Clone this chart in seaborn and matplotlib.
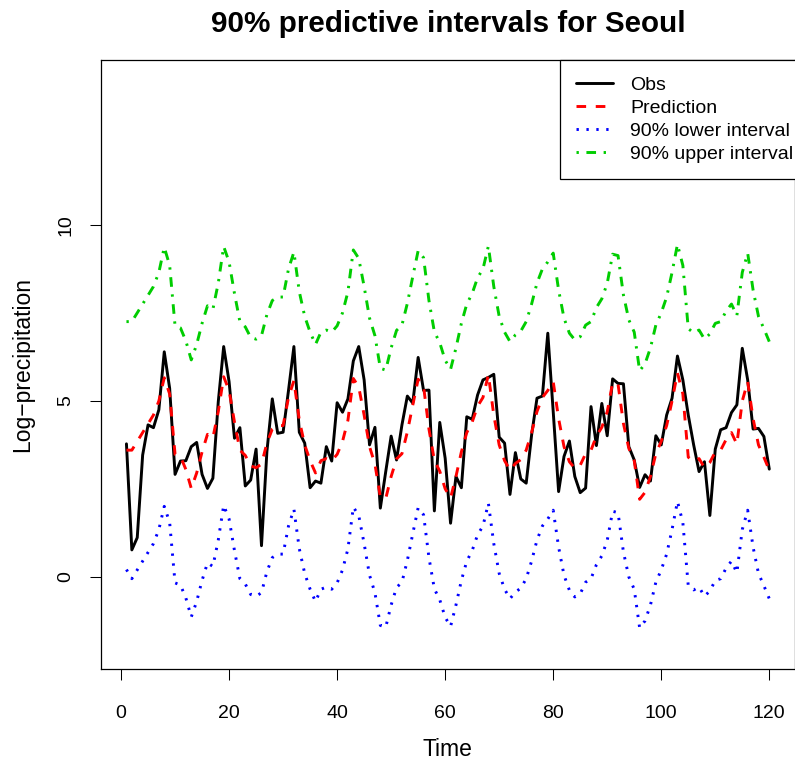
import numpy as np
import pandas as pd
import matplotlib
matplotlib.use("Agg")
import matplotlib.pyplot as plt
import seaborn as sns

# ---- data ----
time = np.arange(1, 121)

obs = [
    3.78, 0.76, 1.11, 3.46, 4.32, 4.24, 4.75, 6.40, 5.36, 2.91,
    3.29, 3.30, 3.70, 3.82, 2.91, 2.51, 2.80, 4.98, 6.55, 5.55,
    3.94, 4.24, 2.58, 2.75, 3.63, 0.88, 3.56, 5.06, 4.08, 4.11,
    5.30, 6.55, 4.11, 3.80, 2.53, 2.72, 2.66, 3.70, 3.29, 4.95,
    4.68, 5.06, 6.14, 6.55, 5.60, 3.75, 4.25, 1.95, 2.99, 4.00,
    3.32, 4.32, 5.14, 4.94, 6.24, 5.30, 5.31, 1.87, 4.39, 3.37,
    1.52, 2.85, 2.53, 4.55, 4.48, 5.17, 5.60, 5.67, 5.76, 3.97,
    3.80, 2.34, 3.53, 2.78, 2.66, 4.03, 5.08, 5.14, 6.93, 4.70,
    2.42, 3.42, 3.86, 2.85, 2.39, 2.52, 4.84, 3.73, 4.93, 4.01,
    5.63, 5.50, 5.49, 3.70, 3.32, 2.54, 2.90, 2.72, 4.01, 3.75,
    4.60, 5.08, 6.28, 5.60, 4.60, 3.75, 2.99, 3.27, 1.74, 3.63,
    4.18, 4.24, 4.67, 4.89, 6.50, 5.60, 4.20, 4.22, 3.99, 3.06,
]

pred = [
    3.60, 3.60, 3.85, 4.10, 4.35, 4.60, 5.00, 5.66, 5.20, 3.48,
    3.42, 3.05, 2.51, 2.95, 3.55, 4.05, 3.95, 4.70, 5.69, 5.30,
    4.40, 3.60, 3.45, 3.15, 3.10, 3.20, 3.80, 4.20, 4.30, 4.30,
    5.10, 5.58, 4.45, 3.75, 3.30, 2.95, 3.30, 3.36, 3.30, 3.48,
    3.85, 4.45, 5.64, 5.40, 4.60, 3.70, 3.20, 2.27, 2.22, 2.85,
    3.35, 3.50, 4.12, 4.88, 5.62, 5.42, 4.20, 3.31, 3.00, 2.50,
    2.24, 2.85, 3.55, 4.10, 4.40, 4.85, 5.10, 5.75, 4.60, 3.75,
    3.30, 3.03, 3.22, 3.33, 3.60, 4.10, 4.70, 5.10, 5.30, 5.55,
    4.50, 3.70, 3.27, 3.08, 3.17, 3.50, 3.60, 4.00, 4.25, 4.69,
    5.52, 5.48, 4.36, 3.65, 3.30, 2.20, 2.40, 2.85, 3.50, 3.85,
    4.30, 5.00, 5.80, 5.20, 3.40, 3.28, 3.36, 3.10, 3.25, 3.55,
    3.60, 3.90, 4.10, 3.77, 5.00, 5.55, 4.50, 3.75, 3.40, 3.03,
]

lower = [
    0.20, -0.06, 0.19, 0.44, 0.69, 0.94, 1.34, 2.00, 1.54, -0.18,
    -0.24, -0.61, -1.15, -0.71, -0.11, 0.39, 0.29, 1.04, 2.03, 1.64,
    0.74, -0.06, -0.21, -0.51, -0.56, -0.46, 0.14, 0.54, 0.64, 0.64,
    1.44, 1.92, 0.79, 0.09, -0.36, -0.71, -0.36, -0.30, -0.36, -0.18,
    0.19, 0.79, 1.98, 1.74, 0.94, 0.04, -0.46, -1.39, -1.44, -0.81,
    -0.31, -0.16, 0.46, 1.22, 1.96, 1.76, 0.54, -0.35, -0.66, -1.16,
    -1.42, -0.81, -0.11, 0.44, 0.74, 1.19, 1.44, 2.09, 0.94, 0.09,
    -0.36, -0.63, -0.44, -0.33, -0.06, 0.44, 1.04, 1.44, 1.64, 1.89,
    0.84, 0.04, -0.39, -0.58, -0.49, -0.16, -0.06, 0.34, 0.59, 1.03,
    1.86, 1.82, 0.70, -0.01, -0.36, -1.46, -1.26, -0.81, -0.16, 0.19,
    0.64, 1.34, 2.14, 1.54, -0.26, -0.38, -0.30, -0.56, -0.41, -0.11,
    -0.06, 0.24, 0.44, 0.11, 1.34, 1.89, 0.84, 0.09, -0.26, -0.63,
]

upper = [
    7.26, 7.26, 7.51, 7.76, 8.01, 8.26, 8.66, 9.38, 8.86, 7.14,
    7.08, 6.71, 6.17, 6.61, 7.21, 7.71, 7.61, 8.36, 9.40, 8.96,
    8.06, 7.26, 7.11, 6.81, 6.76, 6.86, 7.46, 7.86, 7.96, 7.96,
    8.76, 9.24, 8.11, 7.41, 6.96, 6.61, 6.96, 7.02, 6.96, 7.14,
    7.51, 8.11, 9.30, 9.06, 8.26, 7.36, 6.86, 5.93, 5.88, 6.51,
    7.01, 7.16, 7.78, 8.54, 9.28, 9.08, 7.86, 6.97, 6.66, 6.16,
    5.90, 6.51, 7.21, 7.76, 8.06, 8.51, 8.76, 9.41, 8.26, 7.41,
    6.96, 6.69, 6.88, 6.99, 7.26, 7.76, 8.36, 8.76, 8.96, 9.21,
    8.16, 7.36, 6.93, 6.74, 6.83, 7.16, 7.26, 7.66, 7.91, 8.35,
    9.18, 9.14, 8.02, 7.31, 6.96, 5.86, 6.06, 6.51, 7.16, 7.51,
    7.96, 8.66, 9.46, 8.86, 7.06, 6.94, 7.02, 6.76, 6.91, 7.21,
    7.26, 7.56, 7.76, 7.43, 8.66, 9.21, 8.16, 7.41, 7.06, 6.69,
]

labels = ["Obs", "Prediction", "90% lower interval", "90% upper interval"]
colors = ["black", "#FF0000", "#0000FF", "#00CD00"]
# dash patterns in units of line width (R lty 1, 2, 3, 4)
dash_styles = [None, (3.3, 3.3), (0.8, 2.6), (0.8, 2.6, 3.3, 2.6)]

df = pd.DataFrame({"time": time, "obs": obs, "pred": pred,
                   "lower": lower, "upper": upper})

sns.set_style("ticks")
plt.rcParams["font.family"] = ["Liberation Sans", "DejaVu Sans"]
for key in ["text.color", "axes.labelcolor", "xtick.color", "ytick.color"]:
    plt.rcParams[key] = "black"

fig = plt.figure(figsize=(7.95, 7.63), dpi=100)
ax = fig.add_axes([0.1267, 0.1228, 0.8733, 0.7986])

for col, lab, c, d in zip(["obs", "pred", "lower", "upper"], labels, colors, dash_styles):
    sns.lineplot(data=df, x="time", y=col, color=c, linewidth=2.1, label=lab, ax=ax)
    line = ax.lines[-1]
    if d is not None:
        line.set_dashes(d)
        line.set_dash_capstyle("butt")

ax.set_xlim(-3.76, 124.76)
ax.set_ylim(-2.64, 14.71)
ax.set_xticks([0, 20, 40, 60, 80, 100, 120])
ax.set_yticks([0, 5, 10])
ax.tick_params(axis="both", direction="out", length=8, width=0.75,
               labelsize=14)
ax.tick_params(axis="x", pad=18)
ax.tick_params(axis="y", pad=11)
for lab in ax.get_yticklabels():
    lab.set_rotation(90)
    lab.set_va("center")
for s in ax.spines.values():
    s.set_visible(True)
    s.set_linewidth(0.9)
    s.set_color("black")

ax.set_xlabel("Time", fontsize=16.5, labelpad=11)
ax.set_ylabel("Log\u2212precipitation", fontsize=16.5, labelpad=17)
ax.set_title("90% predictive intervals for Seoul", fontsize=21.3, fontweight="bold", pad=20)

leg = ax.legend(loc="upper right", bbox_to_anchor=(1.0216, 1.0), fontsize=14,
                frameon=True, fancybox=False, edgecolor="black", framealpha=1,
                borderaxespad=0, borderpad=0.85, handlelength=1.9,
                handletextpad=0.88, labelspacing=0.27)
leg.get_frame().set_linewidth(0.9)

fig.savefig("out.png", dpi=100)
